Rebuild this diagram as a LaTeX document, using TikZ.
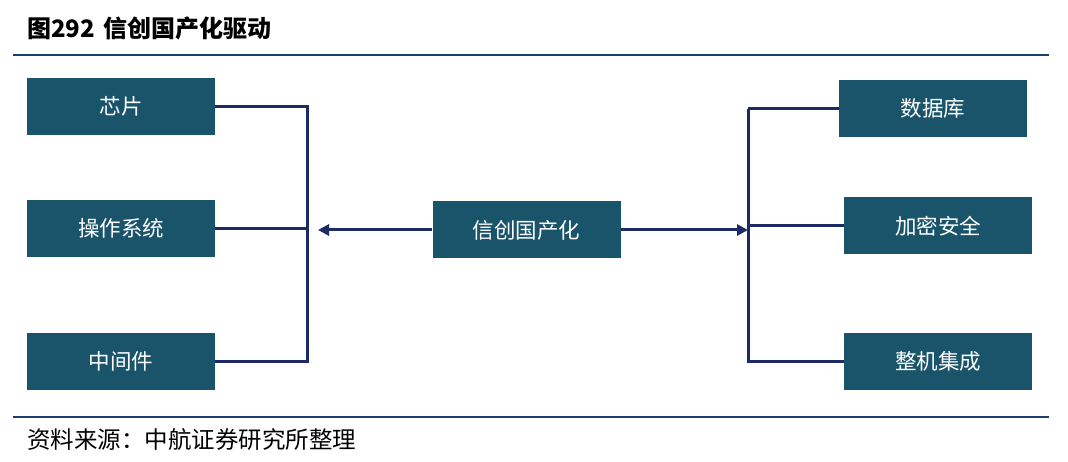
\documentclass[tikz,border=0pt]{standalone}
\usepackage{fontspec}
\usetikzlibrary{arrows.meta}
\newfontfamily\cjk{Noto Sans CJK SC}
\definecolor{boxc}{RGB}{26,84,106}
\definecolor{linec}{RGB}{30,42,102}
\definecolor{rulec}{RGB}{28,62,108}
\tikzset{
  box/.style={fill=boxc, text=white, minimum width=188pt, minimum height=57pt, inner sep=0pt, font=\cjk\fontsize{21.5}{24}\selectfont},
  conn/.style={draw=linec, line width=3pt},
  arr/.style={conn, -{Triangle[length=11pt,width=11pt]}},
  rule/.style={draw=rulec, line width=2.2pt}
}
\begin{document}
\begin{tikzpicture}[x=1pt,y=-1pt]
\useasboundingbox (0,0) rectangle (1068,462);
% title and rules
\node[anchor=west, inner sep=0pt, font=\cjk\bfseries\fontsize{24}{26}\selectfont] (title) at (27,28) {图292\,\,信创国产化驱动};
\coordinate (r1a) at (13,55); \coordinate (r1b) at (1049,55);
\coordinate (r2a) at (13,417); \coordinate (r2b) at (1049,417);
\draw[rule] (r1a) -- (r1b);
\draw[rule] (r2a) -- (r2b);
\node[anchor=west, inner sep=0pt, font=\cjk\fontsize{23.5}{26}\selectfont] (src) at (27,440) {资料来源：中航证券研究所整理};
% boxes
\node[box] (chip) at (121,106.5) {芯片};
\node[box] (os) at (121,228.5) {操作系统};
\node[box] (mid) at (121,361) {中间件};
\node[box] (core) at (526.5,230) {信创国产化};
\node[box] (db) at (933,108.5) {数据库};
\node[box] (enc) at (938,226) {加密安全};
\node[box] (whole) at (938,361) {整机集成};
% left bracket
\coordinate (lt) at (307,105);
\coordinate (lb) at (307,363);
\coordinate (la) at (318,231);
\draw[conn] (lt) -- (lb);
\draw[conn] (chip.east) -- (chip.east -| lt);
\draw[conn] (os.east) -- (os.east -| lt);
\draw[conn] (mid.east) -- (mid.east -| lt);
\draw[arr] (core.west) -- (core.west -| la);
% right bracket
\coordinate (rt) at (748,109);
\coordinate (rb) at (748,363);
\draw[conn] (rt) -- (rb);
\draw[conn] (rt) -- (rt -| db.west);
\draw[conn] (enc.west -| rt) -- (enc.west);
\draw[conn] (whole.west -| rt) -- (whole.west);
\draw[arr] (core.east) -- (core.east -| rt);
\end{tikzpicture}
\end{document}
